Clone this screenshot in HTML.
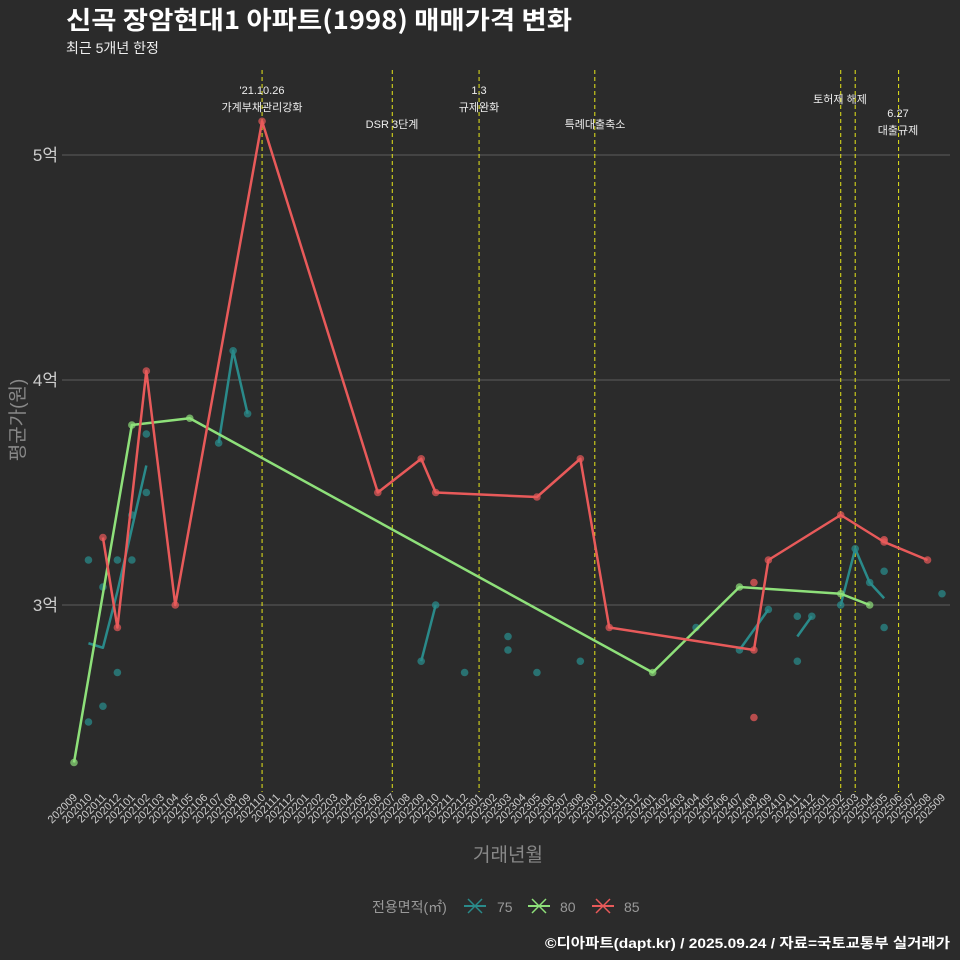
<!DOCTYPE html>
<html><head><meta charset="utf-8"><style>
body{margin:0;background:#2b2b2b;}
svg{display:block;font-family:"Liberation Sans","Noto Sans CJK KR",sans-serif;}
</style></head><body>
<svg id="chart" width="960" height="960" viewBox="0 0 960 960">
<rect width="960" height="960" fill="#2b2b2b"/>
<text x="66" y="29" fill="#fff" font-size="25" font-weight="bold" textLength="506" lengthAdjust="spacingAndGlyphs" style="font-family:'Noto Sans CJK KR',sans-serif">신곡 장암현대1 아파트(1998) 매매가격 변화</text>
<text x="66" y="53" fill="#eee" font-size="14">최근 5개년 한정</text>
<g id="grid"></g><g id="events"></g><g id="series"></g><g id="axes"></g>
<text transform="translate(24,420) rotate(-90)" text-anchor="middle" fill="#888" font-size="19">평균가(원)</text>
<text x="508" y="861" text-anchor="middle" fill="#888" font-size="19">거래년월</text>
<g>
<text x="372" y="912" fill="#999" font-size="14">전용면적(㎡)</text>
<g><line x1="464" y1="906" x2="486" y2="906" stroke="#2a8a8a" stroke-width="2"/><line x1="468" y1="899" x2="482" y2="913" stroke="#2a8a8a" stroke-width="1.5"/><line x1="468" y1="913" x2="482" y2="899" stroke="#2a8a8a" stroke-width="1.5"/><text x="497" y="912" fill="#999" font-size="14">75</text></g>
<g><line x1="528" y1="906" x2="550" y2="906" stroke="#8ee07a" stroke-width="2"/><line x1="532" y1="899" x2="546" y2="913" stroke="#8ee07a" stroke-width="1.5"/><line x1="532" y1="913" x2="546" y2="899" stroke="#8ee07a" stroke-width="1.5"/><text x="560" y="912" fill="#999" font-size="14">80</text></g>
<g><line x1="592" y1="906" x2="614" y2="906" stroke="#e85a5a" stroke-width="2"/><line x1="596" y1="899" x2="610" y2="913" stroke="#e85a5a" stroke-width="1.5"/><line x1="596" y1="913" x2="610" y2="899" stroke="#e85a5a" stroke-width="1.5"/><text x="624" y="912" fill="#999" font-size="14">85</text></g>
</g>
<text x="950" y="948" text-anchor="end" fill="#fff" font-size="14" font-weight="bold" textLength="405" lengthAdjust="spacingAndGlyphs">©디아파트(dapt.kr) / 2025.09.24 / 자료=국토교통부 실거래가</text>
</svg>
<script>
const months=[];for(let y=2020,m=9;!(y===2025&&m===10);){months.push(''+y+(m<10?'0':'')+m);m++;if(m>12){m=1;y++;}}
const yTicks=[3,4,5];
const yTickLabels=['3억','4억','5억'];
const line75=[[1,2.83],[2,2.81],[3,3.06],[4,3.34],[5,3.62],null,[10,3.72],[11,4.13],[12,3.85],null,[24,2.75],[25,3.0],null,[46,2.8],[47,2.89],[48,2.98],null,[50,2.86],[51,2.95],null,[53,3.0],[54,3.25],[55,3.1],[56,3.03]];
const dots75=[[1,3.2],[1,2.48],[2,3.08],[2,2.55],[3,3.2],[3,2.7],[4,3.2],[4,3.4],[5,3.76],[5,3.5],[10,3.72],[11,4.13],[12,3.85],[24,2.75],[25,3.0],[27,2.7],[30,2.86],[30,2.8],[32,2.7],[35,2.75],[43,2.9],[46,2.8],[48,2.98],[50,2.95],[50,2.75],[51,2.95],[53,3.0],[54,3.25],[55,3.1],[56,3.15],[56,2.9],[60,3.05]];
const line80=[[0,2.3],[4,3.8],[8,3.83],[40,2.7],[46,3.08],[53,3.05],[55,3.0]];
const line85=[[2,3.3],[3,2.9],[5,4.04],[7,3.0],[13,5.15],[21,3.5],[24,3.65],[25,3.5],[32,3.48],[35,3.65],[37,2.9],[47,2.8],[48,3.2],[53,3.4],[56,3.28],[59,3.2]];
const dots85=[[47,3.1],[47,2.5],[56,3.29]];
const eventIdx=[13,22,28,36,53,54,57];
const eventLabels=[["'21.10.26","가계부채관리강화"],["DSR 3단계"],["1.3","규제완화"],["특례대출축소"],["토허제 해제"],[],["6.27","대출규제"]];
const eventLabelY=[[94,111],[128],[94,111],[128],[103],[],[117,134]];
const eventLabelX=[262,392,479,595,840,855,898];
const X=i=>74+i*(868/60), Y=v=>605-(v-3)*225;
const NS='http://www.w3.org/2000/svg';
function el(t,a,p){const e=document.createElementNS(NS,t);for(const k in a)e.setAttribute(k,a[k]);p.appendChild(e);return e;}
const g=document.getElementById('grid'),ev=document.getElementById('events'),s=document.getElementById('series'),ax=document.getElementById('axes');
yTicks.forEach((v,i)=>{
 const l=el('line',{x1:62,x2:950,y1:Y(v),y2:Y(v),stroke:'#5e5e5e','stroke-width':1},g);
 
 
 const t=el('text',{x:58,y:Y(v)+6,'text-anchor':'end',fill:'#ccc','font-size':17},ax);t.textContent=yTickLabels[i];
 
 
});
months.forEach((m,i)=>{
 const t=el('text',{transform:`translate(${X(i)+4},${798}) rotate(-45)`,'text-anchor':'end',fill:'#ccc','font-size':11},ax);t.textContent=m;
 
 
});
eventIdx.forEach((i,k)=>{
 const l=el('line',{x1:X(i),x2:X(i),y1:70,y2:792,stroke:'#e6e61a','stroke-width':1,'stroke-dasharray':'4,3'},ev);
 
 
 eventLabels[k].forEach((txt,j)=>{const t=el('text',{x:eventLabelX[k],y:eventLabelY[k][j],'text-anchor':'middle',fill:'#eee','font-size':11},ev);t.textContent=txt;
 
 });
});
function drawLine(pts,color,name){
 let segs=[],cur=[];pts.forEach(p=>{if(p===null){if(cur.length)segs.push(cur);cur=[];}else cur.push(p);});if(cur.length)segs.push(cur);
 segs.forEach(sg=>{const pl=el('polyline',{points:sg.map(p=>X(p[0])+','+Y(p[1])).join(' '),fill:'none',stroke:color,'stroke-width':2.5,'stroke-linejoin':'round'},s);
 
 });
}
function drawDots(pts,color,name,op){pts.forEach(p=>{if(!p)return;const c=el('circle',{cx:X(p[0]),cy:Y(p[1]),r:3.8,fill:color,opacity:op},s);
 
 });}
drawDots(dots75,'#2a8a8a','dot-75',0.75);
drawDots(dots85,'#e85a5a','dot-85',0.75);
drawLine(line75,'#2a8a8a','line-75');
drawLine(line80,'#8ee07a','line-80');
drawLine(line85,'#e85a5a','line-85');
drawDots(line80,'#8ee07a','point-80',0.7);
drawDots(line85,'#e85a5a','point-85',0.7);
</script>
</body></html>
